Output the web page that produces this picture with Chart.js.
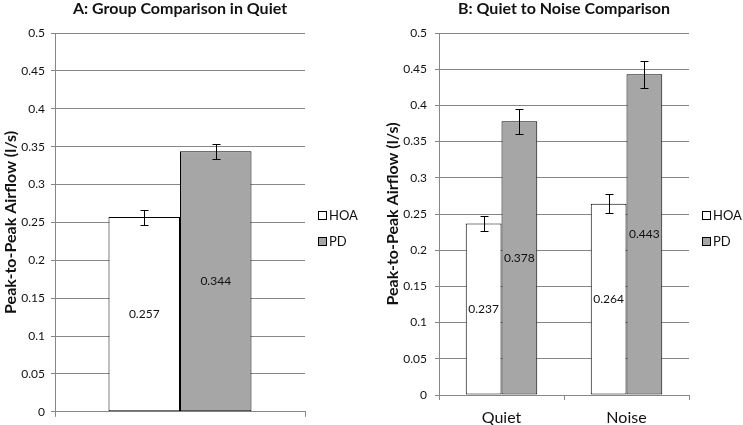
<!DOCTYPE html>
<html>
<head>
<meta charset="utf-8">
<script src="https://cdn.jsdelivr.net/npm/chart.js@4.4.1/dist/chart.umd.min.js"></script>
<style>
  body { margin: 0; background: #fff; }
  #wrap { position: relative; width: 743px; height: 425px; }
  canvas { position: absolute; top: 0; }
  #chartA { left: 0; }
  #chartB { left: 370px; }
</style>
</head>
<body>
<div id="wrap">
  <canvas id="chartA" width="370" height="425"></canvas>
  <canvas id="chartB" width="373" height="425"></canvas>
</div>
<script>
// values
const seriesNames = ['HOA', 'PD'];
const yTicks = [0, 0.05, 0.1, 0.15, 0.2, 0.25, 0.3, 0.35, 0.4, 0.45, 0.5];

const categoriesA = [''];
const hoaA = [0.257];
const pdA = [0.344];
const hoaErrA = [0.010];
const pdErrA = [0.010];

const categoriesB = ['Quiet', 'Noise'];
const hoaB = [0.237, 0.264];
const pdB = [0.378, 0.443];
const hoaErrB = [0.010, 0.013];
const pdErrB = [0.017, 0.019];

const FONT = 'Lato, "Open Sans", sans-serif';
const GRID = '#878787';

// error bars, value labels, title and legend
const decorPlugin = {
  id: 'decor',
  afterDatasetsDraw(chart, args, opts) {
    const ctx = chart.ctx;
    const yScale = chart.scales.y;
    ctx.save();
    chart.data.datasets.forEach((ds, i) => {
      const meta = chart.getDatasetMeta(i);
      meta.data.forEach((bar, j) => {
        const v = ds.data[j];
        const e = ds.errors[j];
        const yt = Math.round(yScale.getPixelForValue(v + e)) + 0.5;
        const yb = Math.round(yScale.getPixelForValue(v - e)) + 0.5;
        const x = Math.round(bar.x) + 0.5;
        ctx.strokeStyle = '#000';
        ctx.lineWidth = 1;
        ctx.beginPath();
        ctx.moveTo(x, yt); ctx.lineTo(x, yb);
        ctx.moveTo(x - 4, yt); ctx.lineTo(x + 4, yt);
        ctx.moveTo(x - 4, yb); ctx.lineTo(x + 4, yb);
        ctx.stroke();

        ctx.fillStyle = '#111';
        ctx.font = '12px ' + FONT;
        ctx.textAlign = 'center';
        ctx.textBaseline = 'middle';
        ctx.fillText(v.toFixed(3), bar.x, (bar.y + bar.base) / 2);
      });
    });
    ctx.restore();
  },
  afterDraw(chart, args, opts) {
    const ctx = chart.ctx;
    const area = chart.chartArea;
    ctx.save();
    ctx.fillStyle = '#111';
    ctx.font = 'bold 16px ' + FONT;
    ctx.textAlign = 'center';
    ctx.textBaseline = 'middle';
    ctx.fillText(opts.title, (area.left + area.right) / 2, 9);

    ctx.font = '13px ' + FONT;
    ctx.textAlign = 'left';
    chart.data.datasets.forEach((ds, i) => {
      const cy = opts.legendY[i];
      ctx.fillStyle = ds.backgroundColor;
      ctx.fillRect(opts.legendX + 0.5, cy - 4 + 0.5, 8, 8);
      ctx.strokeStyle = '#000';
      ctx.lineWidth = 1;
      ctx.strokeRect(opts.legendX + 0.5, cy - 4 + 0.5, 8, 8);
      ctx.fillStyle = '#111';
      ctx.fillText(ds.label, opts.legendX + 11, cy + 1);
    });
    ctx.restore();
  }
};

function makeChart(id, cats, hoa, pdv, hoaErr, pdErr, cfg) {
  return new Chart(document.getElementById(id), {
    type: 'bar',
    data: {
      labels: cats,
      datasets: [
        { label: seriesNames[0], data: hoa, errors: hoaErr, backgroundColor: '#ffffff',
          borderColor: '#000', borderWidth: 1, borderSkipped: false },
        { label: seriesNames[1], data: pdv, errors: pdErr, backgroundColor: '#a6a6a6',
          borderColor: '#000', borderWidth: 1, borderSkipped: false }
      ]
    },
    plugins: [decorPlugin],
    options: {
      responsive: false,
      animation: false,
      devicePixelRatio: 1,
      layout: { padding: { top: 33, right: cfg.padRight, left: 0, bottom: 0 } },
      datasets: { bar: { categoryPercentage: 0.572, barPercentage: 1.0 } },
      plugins: {
        legend: { display: false },
        tooltip: { enabled: false },
        decor: { title: cfg.title, legendX: cfg.legendX, legendY: [215, 241] }
      },
      scales: {
        x: {
          grid: { display: true, drawOnChartArea: false, drawTicks: true, tickLength: 5,
                  color: GRID, offset: true },
          border: { display: true, color: GRID },
          ticks: { color: '#111', font: { family: FONT, size: 16 }, padding: 8 },
          afterFit: s => { s.height = cfg.xHeight; }
        },
        y: {
          min: 0, max: 0.5,
          afterBuildTicks: s => { s.ticks = yTicks.map(v => ({ value: v })); },
          grid: { color: GRID, tickLength: 4 },
          border: { display: true, color: GRID },
          ticks: { color: '#111', font: { family: FONT, size: 12 }, padding: cfg.tickPad,
                   callback: v => String(+v.toFixed(2)) },
          title: { display: true, text: 'Peak-to-Peak Airflow (l/s)', color: '#111',
                   font: { family: FONT, size: 16, weight: 'bold' },
                   padding: { top: cfg.titlePad, bottom: 0 } },
          afterFit: s => { s.width = cfg.yWidth; }
        }
      }
    }
  });
}

makeChart('chartA', categoriesA, hoaA, pdA, hoaErrA, pdErrA, {
  title: 'A: Group Comparison in Quiet', padRight: 65, yWidth: 55, xHeight: 6,
  tickPad: 6, titlePad: 1, legendX: 318
});
makeChart('chartB', categoriesB, hoaB, pdB, hoaErrB, pdErrB, {
  title: 'B: Quiet to Noise Comparison', padRight: 54, yWidth: 69, xHeight: 30,
  tickPad: 8, titlePad: 13, legendX: 332
});
</script>
</body>
</html>
